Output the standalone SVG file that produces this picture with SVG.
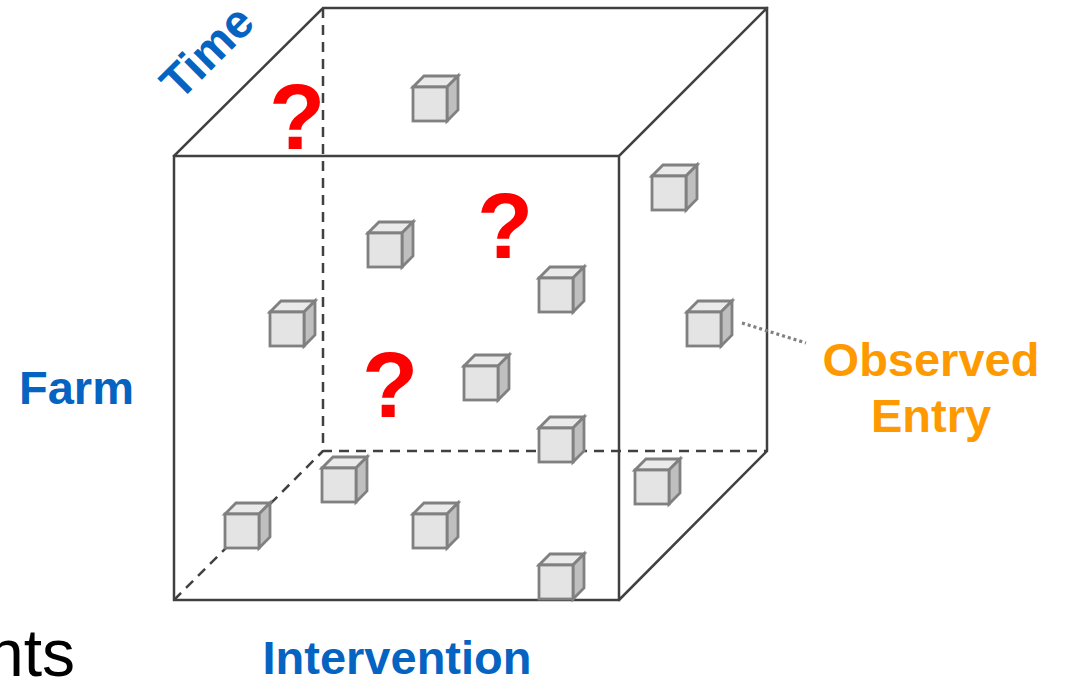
<svg xmlns="http://www.w3.org/2000/svg" width="1066" height="679" viewBox="0 0 1066 679">
  <style>
    .edge { fill: none; stroke: #404040; stroke-width: 2.5; stroke-linecap: square; }
    .hidden { fill: none; stroke: #404040; stroke-width: 2.5; stroke-dasharray: 10 7; }
    .cf { stroke: #808080; stroke-width: 2.8; stroke-linejoin: miter; }
    .axis { font-family: "Liberation Sans", Arial, sans-serif; font-weight: bold; font-size: 47px; fill: #0563c1; }
    .note { font-family: "Liberation Sans", Arial, sans-serif; font-weight: bold; font-size: 47px; fill: #ff9900; }
    .q { font-family: "Liberation Sans", Arial, sans-serif; font-weight: bold; font-size: 92px; fill: #ff0000; text-anchor: middle; }
  </style>
  <defs>
    <!-- small data cube: front square 34x34, depth offset (11,-11) -->
    <g id="cell">
      <polygon class="cf" points="0,0 11,-11 45,-11 34,0" fill="#eaeaea"/>
      <polygon class="cf" points="34,0 45,-11 45,23 34,34" fill="#bfbfbf"/>
      <rect class="cf" x="0" y="0" width="34" height="34" fill="#e4e4e4"/>
    </g>
  </defs>

  <rect width="1066" height="679" fill="#ffffff"/>

  <!-- large data cube -->
  <g id="tensor">
    <path class="hidden" d="M323,8 V451 H767 M174,600 L323,451"/>
    <path class="edge" d="M174,156 H619 V600 H174 Z M174,156 L323,8 H767 V451 L619,600 M619,156 L767,8"/>
  </g>

  <!-- observed entries -->
  <g id="cells">
    <use href="#cell" x="413" y="87"/>
    <use href="#cell" x="652" y="176"/>
    <use href="#cell" x="368" y="233"/>
    <use href="#cell" x="539" y="278"/>
    <use href="#cell" x="270" y="312"/>
    <use href="#cell" x="687" y="312"/>
    <use href="#cell" x="464" y="366"/>
    <use href="#cell" x="539" y="428"/>
    <use href="#cell" x="322" y="468"/>
    <use href="#cell" x="635" y="470"/>
    <use href="#cell" x="225" y="514"/>
    <use href="#cell" x="413" y="514"/>
    <use href="#cell" x="539" y="565"/>
  </g>

  <!-- missing entries -->
  <g id="missing">
    <text class="q" x="297" y="149">?</text>
    <text class="q" x="505" y="258">?</text>
    <text class="q" x="390" y="417">?</text>
  </g>

  <!-- connector to the callout -->
  <g id="connectors">
    <path d="M742,323 L806,343" fill="none" stroke="#808080" stroke-width="3.2" stroke-dasharray="3 3"/>
  </g>

  <g id="label-time">
    <text class="axis" text-anchor="middle" transform="translate(207,52) rotate(-45)" x="0" y="16">Time</text>
  </g>
  <g id="label-farm">
    <text class="axis" x="19" y="404">Farm</text>
  </g>
  <g id="label-intervention">
    <text class="axis" x="397" y="674" text-anchor="middle">Intervention</text>
  </g>
  <g id="label-observed">
    <text class="note" x="931" y="376" text-anchor="middle">Observed</text>
    <text class="note" x="931" y="432" text-anchor="middle">Entry</text>
  </g>

  <text x="75" y="676" text-anchor="end" font-family="Liberation Sans, Arial, sans-serif" font-size="66" fill="#000000">nts</text>
</svg>
